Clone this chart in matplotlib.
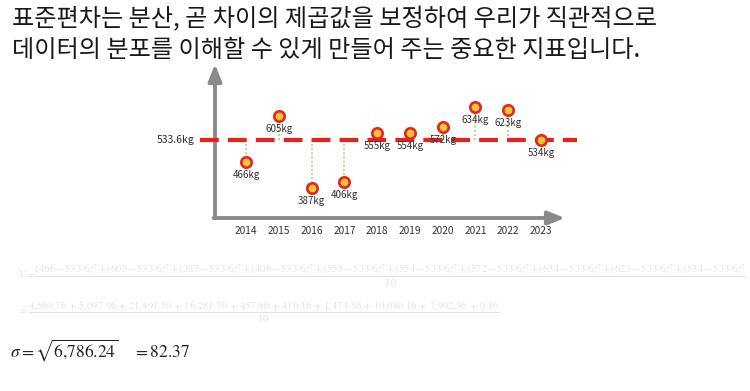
import numpy as np
import matplotlib
matplotlib.use('Agg')
import matplotlib.pyplot as plt

plt.rcParams['font.family'] = ['Noto Sans CJK KR', 'DejaVu Sans']
plt.rcParams['mathtext.fontset'] = 'stix'

# data
years = [2014, 2015, 2016, 2017, 2018, 2019, 2020, 2021, 2022, 2023]
weights = [466, 605, 387, 406, 555, 554, 572, 634, 623, 534]
mean_label = '533.6kg'
title_lines = ['표준편차는 분산, 곧 차이의 제곱값을 보정하여 우리가 직관적으로',
               '데이터의 분포를 이해할 수 있게 만들어 주는 중요한 지표입니다.']
sq_diffs = ['4,569.76', '5,097.96', '21,491.56', '16,281.76', '457.96',
            '416.16', '1,474.56', '10,080.16', '7,992.36', '0.16']
variance_txt = '6{,}786.24'
sigma_txt = '82.37'

mean = np.mean(weights)
W, H = 750, 391

def fx(px):
    return px / W

def fy(py):
    return 1 - py / H

fig = plt.figure(figsize=(7.5, 3.91), dpi=100)

# title
fig.text(fx(12), fy(19), title_lines[0], fontsize=17.4, color='#1a1a1a', va='center', ha='left')
fig.text(fx(12), fy(50), title_lines[1], fontsize=17.4, color='#1a1a1a', va='center', ha='left')

# chart axes
ax = fig.add_axes([fx(215), fy(218), 350 / W, 148 / H])
ax.set_xlim(2013.055, 2023.73)
px_per_kg = 0.33
ax.set_ylim(mean - 78 / px_per_kg, mean + 70 / px_per_kg)
for s in ax.spines.values():
    s.set_visible(False)
ax.set_yticks([])
ax.set_xticks(years)
ax.set_xticklabels([str(y) for y in years], fontsize=7.3, color='#333333')
ax.tick_params(axis='x', length=0, pad=6)
ax.patch.set_alpha(0)

axis_col = '#8a8a8a'
ax.annotate('', xy=(1.0, 0), xytext=(-0.004, 0), xycoords='axes fraction',
            arrowprops=dict(arrowstyle='-|>,head_length=1.0,head_width=0.4', color=axis_col, lw=2.8,
                            shrinkA=0, shrinkB=0), annotation_clip=False)
ax.annotate('', xy=(0, 1.04), xytext=(0, 0), xycoords='axes fraction',
            arrowprops=dict(arrowstyle='-|>,head_length=1.0,head_width=0.4', color=axis_col, lw=2.8,
                            shrinkA=0, shrinkB=0), annotation_clip=False)

# connectors to mean
for x, v in zip(years, weights):
    ax.plot([x, x], [mean, v], color='#9ccc65', lw=1.2, ls=(0, (1, 1.5)), zorder=2)

# mean line
ax.axhline(mean, xmin=-0.043, xmax=1.034, color='#e8201c', lw=3, dashes=(4.5, 2.2),
           clip_on=False, zorder=3)
ax.text(-0.06, mean, mean_label, transform=ax.get_yaxis_transform(), ha='right', va='center',
        fontsize=7.5, color='#333333')

# points
ax.plot(years, weights, 'o', ms=7.5, mfc='#f7c43c', mec='#e5261f', mew=1.9, zorder=4, clip_on=False)
for x, v in zip(years, weights):
    ax.annotate(f'{v}kg', (x, v), xytext=(0, -5.5), textcoords='offset points', ha='center', va='top',
                fontsize=7, color='#333333', zorder=5)

# variance formulas (faint)
faint = '#e3e3e3'
num1 = '+'.join([f'({v}-{mean:.1f})^2' for v in weights])
fig.text(fx(18), fy(276), r'$V=\dfrac{' + num1 + r'}{10}$', fontsize=7.7, color=faint, ha='left', va='center')
num2 = r'\,+\,'.join([d.replace(',', '{,}') for d in sq_diffs])
fig.text(fx(18), fy(312), r'$=\dfrac{' + num2 + r'}{10}$', fontsize=7.7, color=faint, ha='left', va='center')

# standard deviation
fig.text(fx(10), fy(350), r'$\sigma=\sqrt{' + variance_txt + r'}\quad\;=' + sigma_txt + '$',
         fontsize=12.5, color='#222222', ha='left', va='center')

fig.savefig('out.png', dpi=100)
